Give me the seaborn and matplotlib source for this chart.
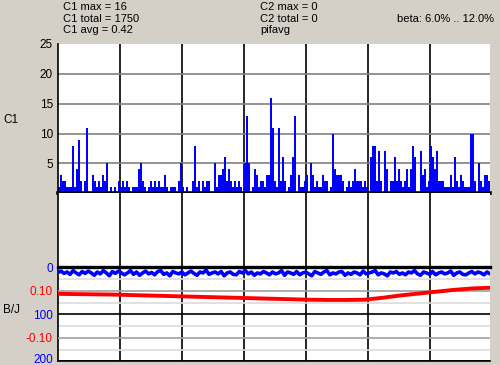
import numpy as np
import pandas as pd
import matplotlib
matplotlib.use("Agg")
import matplotlib.pyplot as plt
from matplotlib.ticker import FixedLocator, NullFormatter
from matplotlib.transforms import ScaledTranslation
import seaborn as sns

# ---------------- data ----------------
c1_counts = [
    1, 3, 2, 2, 1, 1, 1, 8, 1, 4,
    9, 2, 0, 2, 11, 0, 0, 3, 2, 1,
    2, 1, 3, 2, 5, 0, 1, 0, 1, 0,
    2, 1, 2, 1, 2, 1, 0, 1, 1, 1,
    4, 5, 2, 1, 0, 1, 2, 1, 2, 1,
    2, 1, 1, 3, 1, 0, 1, 1, 1, 0,
    2, 5, 1, 0, 1, 0, 0, 2, 8, 1,
    2, 0, 2, 1, 2, 2, 0, 0, 5, 1,
    3, 3, 4, 6, 2, 4, 2, 1, 2, 1,
    2, 1, 0, 5, 13, 5, 0, 1, 4, 3,
    1, 2, 2, 1, 3, 3, 16, 11, 2, 1,
    11, 2, 6, 2, 0, 1, 3, 6, 13, 0,
    3, 1, 1, 2, 3, 0, 5, 3, 1, 2,
    1, 1, 3, 2, 2, 0, 1, 10, 4, 3,
    3, 3, 2, 0, 1, 2, 1, 2, 4, 2,
    2, 2, 1, 2, 1, 0, 6, 8, 8, 2,
    7, 2, 0, 7, 4, 0, 2, 2, 6, 2,
    4, 2, 1, 2, 4, 1, 4, 8, 6, 0,
    0, 7, 3, 4, 1, 2, 8, 6, 4, 7,
    2, 2, 2, 1, 1, 1, 3, 1, 6, 2,
    1, 3, 2, 1, 1, 1, 10, 10, 2, 0,
    5, 2, 1, 3, 3, 2,
]
c1_ticks = [5, 10, 15, 20, 25]

bj_blue = [11, 8, 13, 10, 15, 7, 12, 16, 9, 13, 8, 12, 17, 10, 14, 7, 12, 18, 9, 13,
           8, 12, 16, 12, 7, 15, 10, 17, 12, 8, 14, 11, 16, 9, 7, 15, 12, 18, 9, 12,
           14, 10, 16, 12, 8, 13, 17, 10, 12, 6, 15, 12, 10, 14, 9, 18, 12, 10, 15, 16,
           9, 12, 7, 14, 10, 17, 12, 14, 9, 12, 16, 10, 14, 12, 7, 17, 10, 12, 15, 9,
           16, 12, 10, 14, 18, 9, 12, 15, 10, 7, 16, 12, 14, 10, 9, 17, 12, 15, 10, 12,
           16, 8, 14, 12, 10, 7, 16, 12, 14, 18, 10, 12, 9, 15, 12, 16, 10, 12, 7, 14,
           17, 10, 12, 15, 9, 16, 12, 10, 14, 12, 8, 17, 12, 10, 15, 16, 12, 9, 14, 10,
           12, 16, 10, 14]
bj_red = [0.087, 0.086, 0.085, 0.084, 0.082, 0.080, 0.078, 0.076, 0.074, 0.072,
          0.070, 0.068, 0.066, 0.064, 0.062, 0.061, 0.061, 0.062, 0.070, 0.080,
          0.088, 0.096, 0.104, 0.110, 0.113]
blue_ticks = [0, 100, 200]
blue_minor = [25, 75, 125, 175]
red_ticks = [0.10, -0.10]
red_tick_labels = ["0.10", "-0.10"]

c1_stats = ["C1 max = 16", "C1 total = 1750", "C1 avg = 0.42"]
c2_stats = ["C2 max = 0", "C2 total = 0", "pifavg"]
beta_label = "beta: 6.0% .. 12.0%"

# ---------------- style ----------------
sns.set_theme(style="white")
plt.rcParams['font.family'] = ['Liberation Sans', 'DejaVu Sans']
BG = "#D4D0C8"
BLUE = "#0000FF"
RED = "#FF0000"
FS = 8

fig = plt.figure(figsize=(5, 3.65), dpi=100, facecolor=BG)
L, W = 58 / 500, 432 / 500


def fy(y):
    return 1 - y / 365


ax_top = fig.add_axes([L, fy(193.3), W, (193.3 - 44) / 365])
ax_mid = fig.add_axes([L, fy(267.3), W, (267.3 - 193.3) / 365])
ax_bot = fig.add_axes([L, fy(361.3), W, (361.3 - 267.3) / 365])

n = len(c1_counts)
vgrid = [-0.5 + 31 * k for k in range(1, 7)]

# ---- top panel: C1 bars (base strip full width, spikes thin) ----
counts = np.array(c1_counts)
df_base = pd.DataFrame({"sample": np.arange(n), "count": np.minimum(counts, 1)})
df_spk = pd.DataFrame({"sample": np.arange(n), "count": np.where(counts > 1, counts, 0)})
sns.barplot(data=df_base, x="sample", y="count", color=BLUE, width=1.0, saturation=1,
            linewidth=0, errorbar=None, ax=ax_top, native_scale=True, zorder=2)
sns.barplot(data=df_spk, x="sample", y="count", color=BLUE, width=0.6, saturation=1,
            linewidth=0, errorbar=None, ax=ax_top, native_scale=True, zorder=2)
ax_top.set_ylim(0, 25)
ax_top.set_yticks(c1_ticks)
ax_top.set_yticklabels([str(t) for t in c1_ticks])
ax_top.yaxis.grid(True, color="#808080", lw=1.2)
ax_top.get_ygridlines()[-1].set_visible(False)

# ---- bottom panel: B/J ----
bx = np.linspace(-0.5, n - 0.5, len(bj_blue))
sns.lineplot(x=bx, y=bj_blue, ax=ax_bot, color=BLUE, lw=2.6, zorder=3)
ax_bot.set_ylim(200, 0)
ax_bot.set_yticks(blue_ticks)
ax_bot.set_yticklabels([str(t) for t in blue_ticks])
ax_bot.yaxis.set_minor_locator(FixedLocator(blue_minor))
ax_bot.yaxis.set_minor_formatter(NullFormatter())
ax_bot.yaxis.grid(True, which="major", color="black", lw=1.2)
ax_bot.yaxis.grid(True, which="minor", color="#DCDCDC", lw=1.2)
ax_bot.tick_params(axis="y", which="both", length=0, pad=3.6, labelsize=FS + 0.5,
                   labelcolor=BLUE)
# nudge the bottom-most label up so it stays inside the picture
last_lbl = ax_bot.get_yticklabels()[-1]
last_lbl.set_transform(last_lbl.get_transform() + ScaledTranslation(0, 3 / 100, fig.dpi_scale_trans))

ax_red = ax_bot.twinx()
rx = np.linspace(-0.5, n - 0.5, len(bj_red))
sns.lineplot(x=rx, y=bj_red, ax=ax_red, color=RED, lw=2.8, zorder=3)
ax_red.set_ylim(-0.2, 0.2)
ax_red.set_yticks(red_ticks)
ax_red.set_yticklabels(red_tick_labels)
ax_red.yaxis.set_ticks_position("left")
ax_red.yaxis.grid(True, color="#A0A0A0", lw=1.2)
ax_red.set_axisbelow(True)
ax_red.tick_params(axis="y", length=0, pad=3.6, labelsize=FS + 0.5, labelcolor=RED)
ax_red.set_ylabel("")
for s in ax_red.spines.values():
    s.set_visible(False)

# ---- common styling ----
for ax in (ax_top, ax_mid, ax_bot):
    ax.set_facecolor("white")
    ax.set_xlim(-0.5, n - 0.5)
    ax.set_xticks(vgrid)
    ax.xaxis.grid(True, color="black", lw=1.2)
    ax.set_axisbelow(True)
    ax.tick_params(axis="x", length=0, labelbottom=False)
    ax.set_xlabel("")
    ax.set_ylabel("")
    for s in ax.spines.values():
        s.set_visible(False)
    ax.spines["left"].set_visible(True)
    ax.spines["left"].set_color("black")
    ax.spines["left"].set_linewidth(1.2)
ax_red.set_xlim(-0.5, n - 0.5)

ax_top.tick_params(axis="y", length=0, pad=3.6, labelsize=FS + 0.5, labelcolor="black")
ax_top.spines["bottom"].set_visible(True)
ax_top.spines["bottom"].set_color("black")
ax_top.spines["bottom"].set_linewidth(2.6)
ax_top.spines["bottom"].set_zorder(5)

ax_mid.set_yticks([])

ax_bot.spines["top"].set_visible(True)
ax_bot.spines["top"].set_color("black")
ax_bot.spines["top"].set_linewidth(2.4)
ax_bot.spines["bottom"].set_visible(True)
ax_bot.spines["bottom"].set_color("black")
ax_bot.spines["bottom"].set_linewidth(1.2)

# ---- header texts ----
for i, (a, b) in enumerate(zip(c1_stats, c2_stats)):
    yy = fy(7 + 11.5 * i)
    fig.text(63 / 500, yy, a, fontsize=FS, va="center", ha="left", color="black")
    fig.text(260 / 500, yy, b, fontsize=FS, va="center", ha="left", color="black")
fig.text(494 / 500, fy(18.5), beta_label, fontsize=FS, va="center", ha="right", color="black")

fig.text(3 / 500, fy(120), "C1", fontsize=FS + 0.5, va="center", ha="left", color="black")
fig.text(3 / 500, fy(310), "B/J", fontsize=FS + 0.5, va="center", ha="left", color="black")

fig.savefig("out.png", dpi=100, facecolor=BG)
